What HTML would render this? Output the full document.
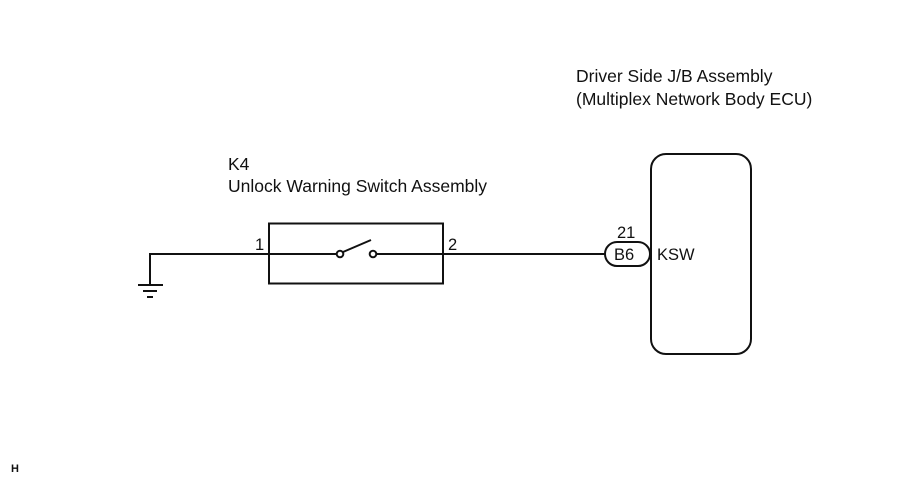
<!DOCTYPE html>
<html><head><meta charset="utf-8"><style>
html,body{margin:0;padding:0;background:#fff;width:904px;height:481px;overflow:hidden}
svg text{font-family:"Liberation Sans",Arial,sans-serif;fill:#111}
</style></head><body>
<svg width="904" height="481" viewBox="0 0 904 481" xmlns="http://www.w3.org/2000/svg">
<g stroke="#111" fill="none" stroke-width="2">
<rect x="269" y="223.5" width="174" height="60"/>
<rect x="651" y="154" width="100" height="200" rx="15"/>
<rect x="605" y="242" width="45" height="24" rx="12"/>
<path d="M150 285 V254 H337 M376 254 H605"/>
<path d="M138 285 H163 M143 291 H157 M147 297 H153"/>
<path d="M343 252 L371 240"/>
<circle cx="340" cy="254" r="3.3" fill="#fff"/>
<circle cx="373" cy="254" r="3.3" fill="#fff"/>
</g>
<g font-size="17.5">
<text x="576" y="82">Driver Side J/B Assembly</text>
<text x="576" y="105">(Multiplex Network Body ECU)</text>
<text x="228" y="170">K4</text>
<text x="228" y="192">Unlock Warning Switch Assembly</text>
</g>
<g font-size="16.5">
<text x="255" y="250">1</text>
<text x="448" y="250">2</text>
<text x="617" y="238">21</text>
<text x="614" y="260">B6</text>
<text x="657" y="260">KSW</text>
</g>
<text x="11" y="472" font-size="11" font-weight="bold">H</text>
</svg>
</body></html>
